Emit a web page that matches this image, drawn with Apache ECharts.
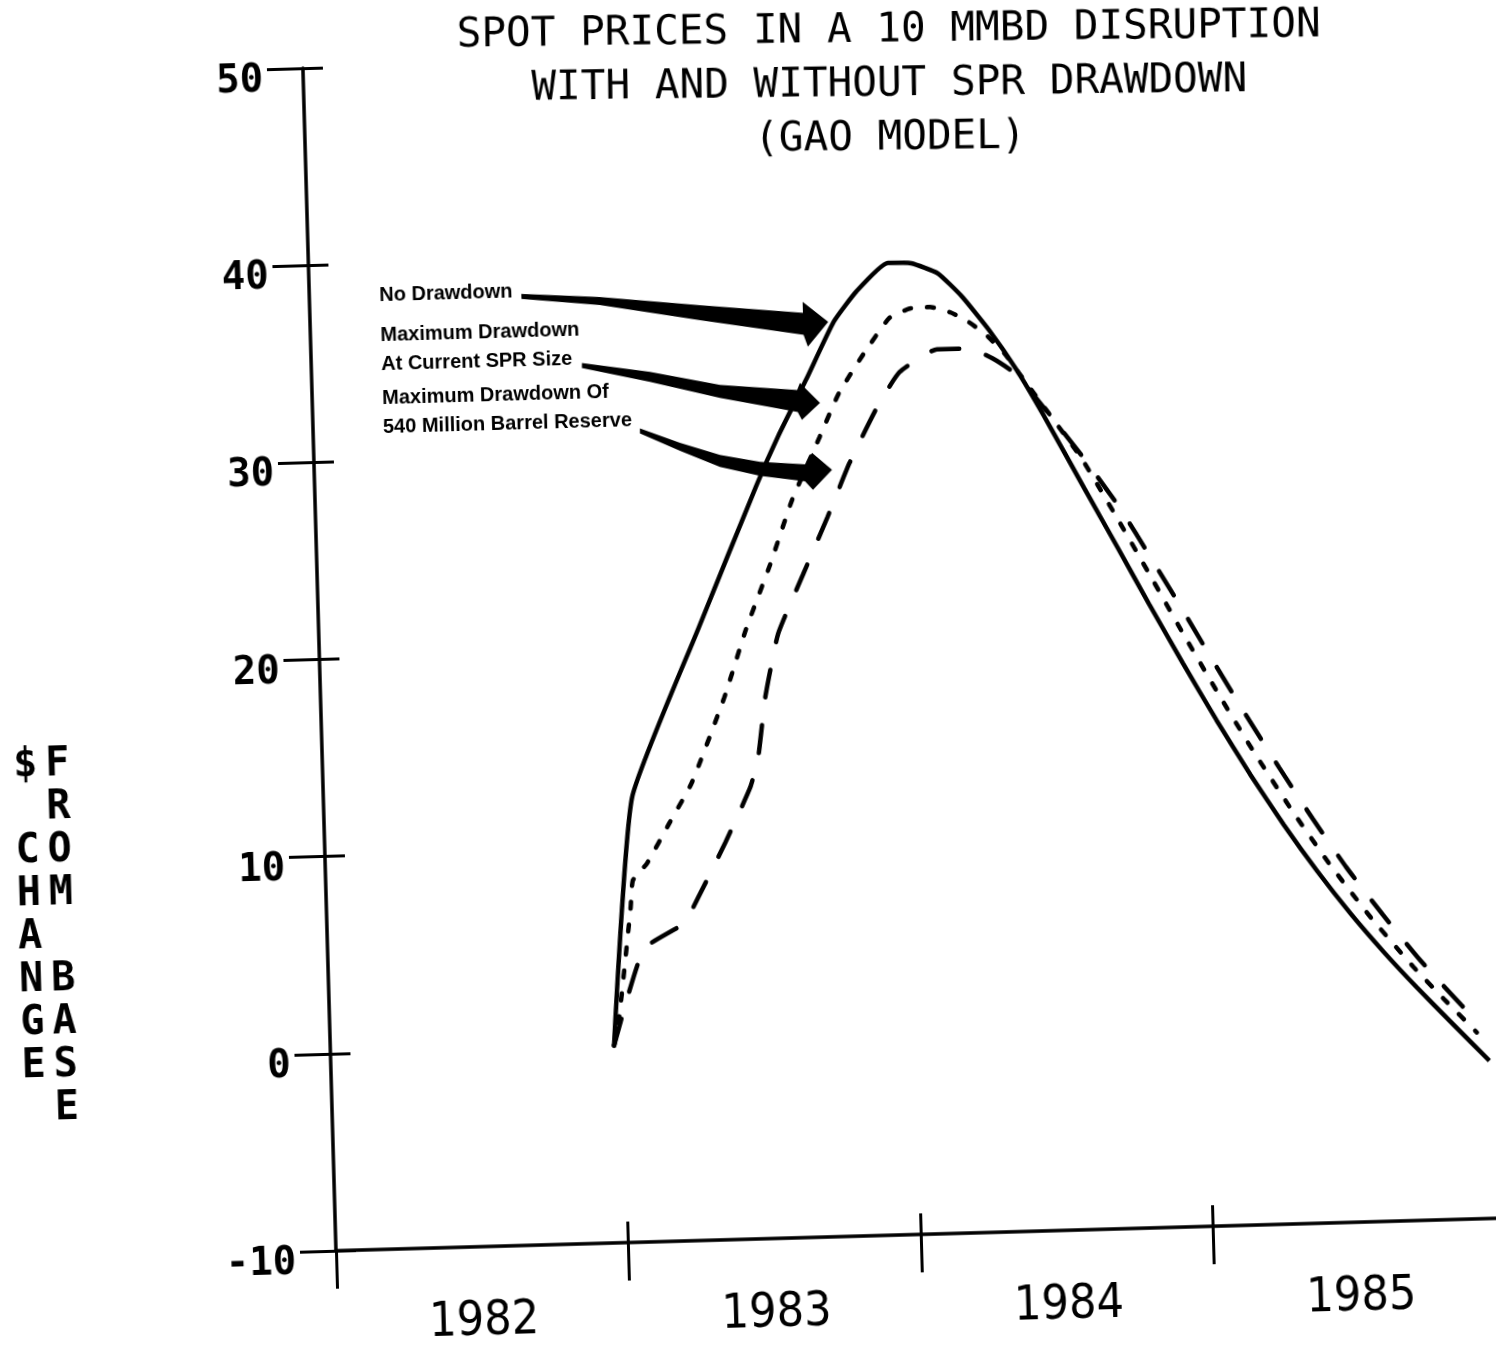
<!DOCTYPE html>
<html>
<head>
<meta charset="utf-8">
<title>Spot prices in a 10 MMBD disruption</title>
<script src="https://cdn.jsdelivr.net/npm/echarts@6/dist/echarts.min.js"></script>
<style>
  html, body { margin: 0; padding: 0; background: #fff; overflow: hidden; }
  /* the scanned page is tilted a little, so the whole chart is too */
  #chart { width: 1496px; height: 1347px; transform: rotate(-1.6deg); transform-origin: 50% 50%; }
</style>
</head>
<body>
<div id="chart"></div>
<script>
// values: [year, $ change from base]
const noDrawdown = [
  [1982.97, 0.0], [1983.055, 12.55], [1983.30, 21.1], [1983.51, 28.2], [1983.59, 30.7],
  [1983.69, 33.5], [1983.79, 36.4], [1983.87, 37.9], [1983.98, 39.3], [1984.06, 39.25],
  [1984.15, 38.7], [1984.23, 37.5], [1984.32, 35.75], [1984.41, 33.7], [1984.50, 31.3],
  [1984.63, 27.6], [1984.74, 24.5], [1984.84, 21.65], [1984.95, 18.6], [1985.06, 15.65],
  [1985.17, 12.85], [1985.28, 10.25], [1985.39, 7.85], [1985.50, 5.65], [1985.61, 3.65],
  [1985.72, 1.8], [1985.83, 0.05], [1985.96, -2.0]
]
const currentSpr = [
  [1982.97, 0.0], [1982.99, 1.4], [1983.04, 7.0], [1983.05, 8.35], [1983.10, 9.2],
  [1983.18, 11.2], [1983.26, 13.2], [1983.38, 17.5], [1983.46, 20.9], [1983.55, 24.2],
  [1983.63, 27.4], [1983.73, 30.55], [1983.80, 32.75], [1983.89, 34.75], [1983.98, 36.5],
  [1984.05, 36.95], [1984.12, 37.0], [1984.19, 36.7], [1984.25, 36.2], [1984.31, 35.5],
  [1984.37, 34.55], [1984.41, 33.7], [1984.62, 29.2], [1984.73, 26.3], [1984.85, 23.0],
  [1984.95, 20.2], [1985.07, 16.95], [1985.18, 14.1], [1985.31, 10.95], [1985.43, 8.25],
  [1985.57, 5.4], [1985.71, 2.85], [1985.81, 1.2], [1985.92, -0.55]
]
const reserve540 = [
  [1982.97, 0.0], [1983.08, 4.85], [1983.22, 6.1], [1983.27, 7.35], [1983.37, 10.15],
  [1983.46, 12.9], [1983.49, 14.4], [1983.52, 17.45], [1983.57, 20.65], [1983.66, 23.6],
  [1983.75, 26.5], [1983.83, 29.2], [1983.93, 32.0], [1984.01, 33.75], [1984.14, 34.85],
  [1984.25, 34.85], [1984.33, 34.3], [1984.41, 33.45], [1984.62, 29.35], [1984.75, 26.55],
  [1984.85, 24.0], [1984.96, 21.15], [1985.05, 18.75], [1985.16, 15.9], [1985.27, 13.15],
  [1985.38, 10.5], [1985.49, 8.0], [1985.61, 5.55], [1985.73, 3.25], [1985.87, 0.85],
  [1985.93, -0.1]
]

const yearLabels = ['1982', '1983', '1984', '1985']
const yearTicks = [1982, 1983, 1984, 1985]
const titleLines = [
  'SPOT PRICES IN A 10 MMBD DISRUPTION',
  'WITH AND WITHOUT SPR DRAWDOWN',
  '(GAO MODEL)'
]
const noteLines = [
  'No Drawdown',
  'Maximum Drawdown',
  'At Current SPR Size',
  'Maximum Drawdown Of',
  '540 Million Barrel Reserve'
]

const mono = 'DejaVu Sans Mono'
const ink = '#000'

const chart = echarts.init(document.getElementById('chart'))

function note(text, y) {
  return {
    type: 'text', x: 390, y: y,
    style: { text: text, fill: ink, font: 'bold 20px "Liberation Sans", Arial, sans-serif', verticalAlign: 'middle' }
  }
}
function arrow(points) {
  return { type: 'polygon', shape: { points: points }, style: { fill: ink } }
}

chart.setOption({
  animation: false,
  backgroundColor: '#fff',
  grid: { left: 320, right: 6, top: 56, bottom: 108 },
  xAxis: [{
    type: 'value', min: 1982, max: 1986, position: 'bottom',
    axisLine: { onZero: false, lineStyle: { color: ink, width: 3.5 } },
    axisTick: { customValues: yearTicks, length: 38, lineStyle: { color: ink, width: 3 } },
    axisLabel: {
      customValues: yearTicks.map(y => y + 0.5),
      formatter: v => yearLabels[Math.floor(v) - 1982],
      margin: 52,
      fontFamily: '"Liberation Sans Narrow", "DejaVu Sans Condensed", sans-serif',
      fontSize: 48,
      color: ink
    },
    splitLine: { show: false }
  }, {
    // second bottom axis only to draw the short tick stubs above the line
    type: 'value', min: 1982, max: 1986, position: 'bottom', offset: 0,
    axisLine: { show: false, onZero: false },
    axisTick: { inside: true, customValues: yearTicks.slice(1), length: 21, lineStyle: { color: ink, width: 3 } },
    axisLabel: { show: false },
    splitLine: { show: false }
  }],
  yAxis: [{
    type: 'value', min: -10, max: 50, interval: 10,
    axisLine: { show: true, onZero: false, lineStyle: { color: ink, width: 3.5 } },
    axisTick: { show: true, length: 36, lineStyle: { color: ink, width: 3 } },
    axisLabel: {
      margin: 40, fontFamily: mono, fontWeight: 'bold', fontSize: 39, color: ink,
      verticalAlign: 'top', lineHeight: 24
    },
    splitLine: { show: false }
  }, {
    type: 'value', min: -10, max: 50, interval: 10, position: 'left', offset: 0,
    axisLine: { show: false, onZero: false },
    axisTick: { show: true, inside: true, length: 20, lineStyle: { color: ink, width: 3 } },
    axisLabel: { show: false },
    splitLine: { show: false }
  }],
  series: [{
    name: 'No Drawdown',
    type: 'line',
    data: noDrawdown,
    showSymbol: false,
    smooth: 0.15,
    lineStyle: { color: ink, width: 4.5 }
  }, {
    name: 'Maximum Drawdown At Current SPR Size',
    type: 'line',
    data: currentSpr,
    showSymbol: false,
    smooth: 0.15,
    lineStyle: { color: ink, width: 4.5, type: [7, 16], cap: 'round' }
  }, {
    name: 'Maximum Drawdown Of 540 Million Barrel Reserve',
    type: 'line',
    data: reserve540,
    showSymbol: false,
    smooth: 0.15,
    lineStyle: { color: ink, width: 4.5, type: [28, 28], cap: 'round' }
  }],
  graphic: [
    {
      type: 'text', x: 907, y: 8, rotation: -0.016,
      style: {
        text: titleLines.join('\n'), fill: ink, font: '41px "DejaVu Sans Mono"',
        align: 'center', verticalAlign: 'top', lineHeight: 54
      }
    },
    // stacked axis caption, two columns of letters
    {
      type: 'text', x: 23, y: 724,
      style: { text: '$\n\nC\nH\nA\nN\nG\nE', fill: ink, font: 'bold 40px "DejaVu Sans Mono"', align: 'center', verticalAlign: 'top', lineHeight: 43 }
    },
    {
      type: 'text', x: 55, y: 724,
      style: { text: 'F\nR\nO\nM\n\nB\nA\nS\nE', fill: ink, font: 'bold 40px "DejaVu Sans Mono"', align: 'center', verticalAlign: 'top', lineHeight: 43 }
    },
    note(noteLines[0], 285),
    note(noteLines[1], 325),
    note(noteLines[2], 354),
    note(noteLines[3], 388),
    note(noteLines[4], 417),
    arrow([[532, 287.7], [610, 293.1], [710, 303.9], [813, 314.5], [813, 303.5], [838, 324.2],
      [817, 348.6], [813, 336.5], [710, 318.9], [610, 301.1], [532, 292.7]]),
    arrow([[590.7, 358.4], [658.4, 369.3], [728.1, 384.2], [805, 391.5], [808, 384.5], [827.5, 405],
      [809, 421.5], [805, 413.5], [727.7, 397.2], [658.1, 379.3], [590.5, 363.4]]),
    arrow([[646.8, 425.5], [686.4, 441.1], [726.1, 454.2], [765.9, 462.3], [810.8, 466.1], [818.2, 454.8],
      [837.7, 472.3], [818.1, 491.8], [810.4, 483.1], [765.5, 476.3], [725.8, 466.2], [686.2, 449.1], [646.7, 430.5]])
  ]
})
</script>
</body>
</html>
